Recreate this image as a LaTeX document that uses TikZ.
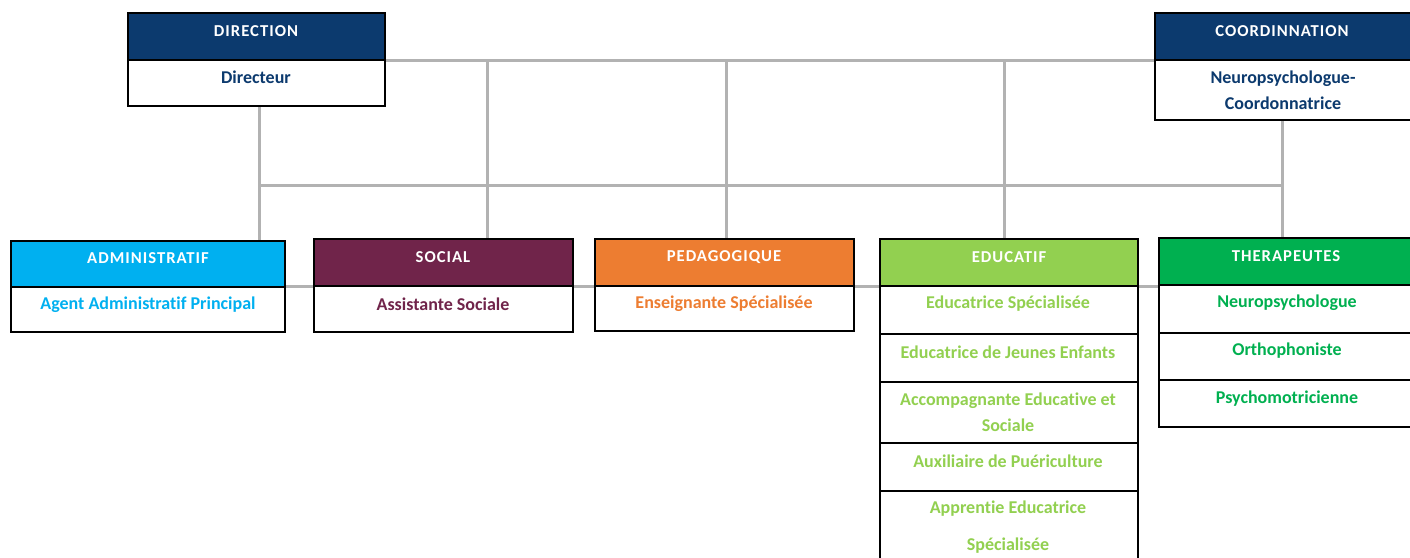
\documentclass[tikz,border=0pt]{standalone}
\usepackage{fontspec}
\setmainfont{Carlito}[Ligatures=NoCommon]
\definecolor{navy}{RGB}{12,58,110}
\definecolor{adm}{RGB}{0,176,240}
\definecolor{soc}{RGB}{112,36,74}
\definecolor{ped}{RGB}{237,125,49}
\definecolor{edu}{RGB}{146,208,80}
\definecolor{ther}{RGB}{0,176,80}
\definecolor{conn}{RGB}{178,178,178}
\pgfdeclarelayer{background}
\pgfsetlayers{background,main}
\tikzset{
  cell/.style={draw=black, line width=1.5pt, inner sep=0pt, outer sep=0pt, anchor=north west, fill=white},
  hdr/.style={text=white, font=\bfseries\fontsize{12.5}{14}\selectfont\addfontfeatures{LetterSpace=6}},
  txt/.style={font=\bfseries\fontsize{13.5}{16}\selectfont},
  link/.style={draw=conn, line width=2.25pt},
}
\begin{document}
\begin{tikzpicture}[x=0.75pt,y=-0.75pt]
\useasboundingbox (0,0) rectangle (1410,557);
\clip (0,0) rectangle (1410,557);
% cells
\node[cell, fill=navy, minimum width=257*0.75pt, minimum height=47*0.75pt] (dirh) at (128,13) {};
\node[cell, minimum width=257*0.75pt, minimum height=46*0.75pt] (dirb) at (128,60) {};
\node[cell, fill=navy, minimum width=260*0.75pt, minimum height=47*0.75pt] (coh) at (1155,13) {};
\node[cell, minimum width=260*0.75pt, minimum height=60*0.75pt] (cob) at (1155,60) {};
\node[cell, fill=adm, minimum width=274*0.75pt, minimum height=46*0.75pt] (admh) at (11,241) {};
\node[cell, minimum width=274*0.75pt, minimum height=45*0.75pt] (admb) at (11,287) {};
\node[cell, fill=soc, minimum width=259*0.75pt, minimum height=47*0.75pt] (soch) at (314,239) {};
\node[cell, minimum width=259*0.75pt, minimum height=46*0.75pt] (socb) at (314,286) {};
\node[cell, fill=ped, minimum width=259*0.75pt, minimum height=47*0.75pt] (pedh) at (595,239) {};
\node[cell, minimum width=259*0.75pt, minimum height=45*0.75pt] (pedb) at (595,286) {};
\node[cell, fill=edu, minimum width=258*0.75pt, minimum height=47*0.75pt] (eduh) at (880,239) {};
\node[cell, minimum width=258*0.75pt, minimum height=48*0.75pt] (edu1) at (880,286) {};
\node[cell, minimum width=258*0.75pt, minimum height=48*0.75pt] (edu2) at (880,334) {};
\node[cell, minimum width=258*0.75pt, minimum height=61*0.75pt] (edu3) at (880,382) {};
\node[cell, minimum width=258*0.75pt, minimum height=48*0.75pt] (edu4) at (880,443) {};
\node[cell, minimum width=258*0.75pt, minimum height=80*0.75pt] (edu5) at (880,491) {};
\node[cell, fill=ther, minimum width=256*0.75pt, minimum height=47*0.75pt] (thh) at (1159,238) {};
\node[cell, minimum width=256*0.75pt, minimum height=48*0.75pt] (th1) at (1159,285) {};
\node[cell, minimum width=256*0.75pt, minimum height=47*0.75pt] (th2) at (1159,333) {};
\node[cell, minimum width=256*0.75pt, minimum height=47*0.75pt] (th3) at (1159,380) {};
% connectors (behind the cells)
\coordinate (j1) at (487,60);
\coordinate (j2) at (726,60);
\coordinate (j3) at (1004,60);
\coordinate (h1) at (259,185);
\coordinate (h2) at (1282,185);
\coordinate (r1) at (285,286);
\begin{pgfonlayer}{background}
\draw[link] (dirh.south east) -- (coh.south west);
\draw[link] (j1) -- (j1 |- soch.north);
\draw[link] (j2) -- (j2 |- pedh.north);
\draw[link] (j3) -- (j3 |- eduh.north);
\draw[link] (h1 |- dirb.south) -- (h1 |- admh.north);
\draw[link] (h1) -- (h2);
\draw[link] (h2 |- cob.south) -- (h2 |- thh.north);
\draw[link] (r1) -- (r1 -| thh.west);
\end{pgfonlayer}
% texts
\node[hdr] (tdir) at (256,31) {DIRECTION};
\node[txt, text=navy] (tdirb) at (256,77) {Directeur};
\node[hdr] (tco) at (1282,31) {COORDINNATION};
\node[txt, text=navy, align=center] (tcob) at (1283,90) {Neuropsychologue-\\[3.5pt]Coordonnatrice};
\node[hdr] (tadm) at (148,258) {ADMINISTRATIF};
\node[txt, text=adm] (tadmb) at (148,305) {Agent Administratif Principal};
\node[hdr] (tsoc) at (443,257) {SOCIAL};
\node[txt, text=soc] (tsocb) at (443,304) {Assistante Sociale};
\node[hdr] (tped) at (724,257) {PEDAGOGIQUE};
\node[txt, text=ped] (tpedb) at (724,304) {Enseignante Spécialisée};
\node[hdr] (tedu) at (1009,257) {EDUCATIF};
\node[txt, text=edu] (te1) at (1008,304) {Educatrice Spécialisée};
\node[txt, text=edu] (te2) at (1008,352) {Educatrice de Jeunes Enfants};
\node[txt, text=edu, align=center] (te3) at (1008,412) {Accompagnante Educative et\\[3.5pt]Sociale};
\node[txt, text=edu] (te4) at (1008,461) {Auxiliaire de Puériculture};
\node[txt, text=edu, align=center] (te5) at (1008,527) {Apprentie Educatrice\\[11.5pt]Spécialisée};
\node[hdr] (tth) at (1286,256) {THERAPEUTES};
\node[txt, text=ther] (tt1) at (1287,303) {Neuropsychologue};
\node[txt, text=ther] (tt2) at (1287,351) {Orthophoniste};
\node[txt, text=ther] (tt3) at (1287,399) {Psychomotricienne};
\end{tikzpicture}
\end{document}
